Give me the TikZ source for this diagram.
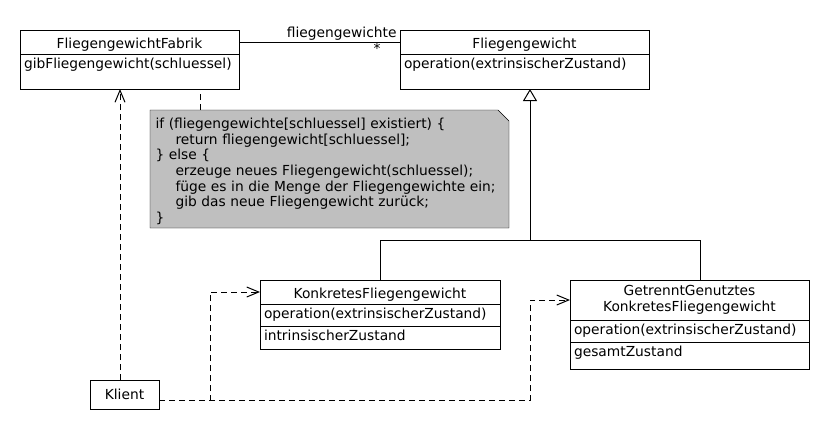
\documentclass[tikz,border=0pt]{standalone}
\usepackage{fontspec}
\setmainfont{DejaVu Sans}
\usetikzlibrary{arrows.meta,calc,positioning,backgrounds}

\definecolor{notizgrau}{RGB}{191,191,191}

\tikzset{
  kopf/.style={draw, minimum width=#1, inner ysep=0pt, outer sep=0pt, align=center},
  einzeilig/.style={text height=18pt, text depth=6pt},
  fach/.style={draw, text width=#1, align=left, inner xsep=4pt, inner ysep=0pt, outer sep=0pt, text height=14.5pt},
  abh/.style={dash pattern=on 6pt off 4pt, -{Straight Barb[length=12pt,width=10pt]}},
  vererbung/.style={-{Triangle[open,length=12pt,width=14pt]}},
}

\begin{document}
\begin{tikzpicture}[x=1pt, y=-1pt, line width=1pt, font=\fontsize{13.8}{16}\selectfont]
  \useasboundingbox (0,0) rectangle (830,440);

  % Fabrik
  \node[kopf=219pt, einzeilig, anchor=north west] (fabrikkopf) at (20,30) {FliegengewichtFabrik};
  \node[fach=211pt, text depth=20.5pt, below=0pt of fabrikkopf] (fabrikops) {gibFliegengewicht(schluessel)};

  % Fliegengewicht
  \node[kopf=249pt, einzeilig, anchor=north west] (fgkopf) at (400,30) {Fliegengewicht};
  \node[fach=241pt, text depth=20.5pt, below=0pt of fgkopf] (fgops) {operation(extrinsischerZustand)};

  % KonkretesFliegengewicht
  \node[kopf=240pt, einzeilig, anchor=north west] (konkkopf) at (260,280) {KonkretesFliegengewicht};
  \node[fach=232pt, text depth=7.5pt, below=0pt of konkkopf] (konkops) {operation(extrinsischerZustand)};
  \node[fach=232pt, text depth=8.5pt, below=0pt of konkops] (konkattr) {intrinsischerZustand};

  % GetrenntGenutztesKonkretesFliegengewicht
  \node[kopf=239pt, minimum height=40pt, anchor=north west] (getrkopf) at (570,280) {GetrenntGenutztes\\KonkretesFliegengewicht};
  \node[fach=231pt, text depth=7.5pt, below=0pt of getrkopf] (getrops) {operation(extrinsischerZustand)};
  \node[fach=231pt, text depth=12.5pt, below=0pt of getrops] (getrattr) {gesamtZustand};

  % Klient
  \node[draw, minimum width=69pt, minimum height=29pt, outer sep=0pt, anchor=north west] (klient) at (90,380) {Klient};

  % Notiz
  \node[minimum width=359pt, minimum height=118pt, inner sep=0pt, outer sep=0pt, anchor=north west] (notiz) at (150,110) {};
  \node[anchor=north west, text width=349pt, align=left, inner xsep=5pt, inner ysep=7.5pt, font=\fontsize{13.8}{15.7}\selectfont] (notiztext) at (notiz.north west)
    {if (fliegengewichte[schluessel] existiert) \{\\
     \hspace*{20pt}return fliegengewicht[schluessel];\\
     \} else \{\\
     \hspace*{20pt}erzeuge neues Fliegengewicht(schluessel);\\
     \hspace*{20pt}füge es in die Menge der Fliegengewichte ein;\\
     \hspace*{20pt}gib das neue Fliegengewicht zurück;\\
     \}};
  \begin{scope}[on background layer]
    \filldraw[fill=notizgrau] (notiz.north west) -- ($(notiz.north east)+(-11,0)$) -- ($(notiz.north east)+(0,11)$) -- (notiz.south east) -- (notiz.south west) -- cycle;
  \end{scope}
  \coordinate (notizanker) at ($(notiz.north west)+(50,0)$);
  \draw[dash pattern=on 6pt off 4pt] (notizanker) -- (notizanker |- fabrikops.south);

  % Assoziation
  \draw (fabrikkopf.east) -- (fgkopf.west)
    node[pos=1, anchor=south east, inner xsep=3pt, inner ysep=1pt] (rolle) {fliegengewichte}
    node[pos=1, anchor=north east, xshift=-18pt, inner sep=1pt] (mult) {*};

  % Generalisierung
  \coordinate (knoten) at ($(fgops.south)+(5.5,151)$);
  \coordinate (getranker) at ($(getrkopf.north)+(11,0)$);
  \draw (getranker) |- (knoten);
  \draw[vererbung] (konkkopf.north) |- (knoten) -- (knoten |- fgops.south);

  % Abhaengigkeiten
  \coordinate (kanker) at ($(klient.north west)+(30,0)$);
  \draw[abh] (kanker) -- (kanker |- fabrikops.south);
  \coordinate (kausgang) at ($(klient.south east)+(0,-9)$);
  \coordinate (knick1) at ($(konkkopf.west)+(-50,0)$);
  \coordinate (knick2) at ($(getrkopf.west)+(-40,0)$);
  \draw[abh] (kausgang) -| (knick1) -- (konkkopf.west);
  \draw[abh] (kausgang) -| (knick2) -- (getrkopf.west);
\end{tikzpicture}
\end{document}
